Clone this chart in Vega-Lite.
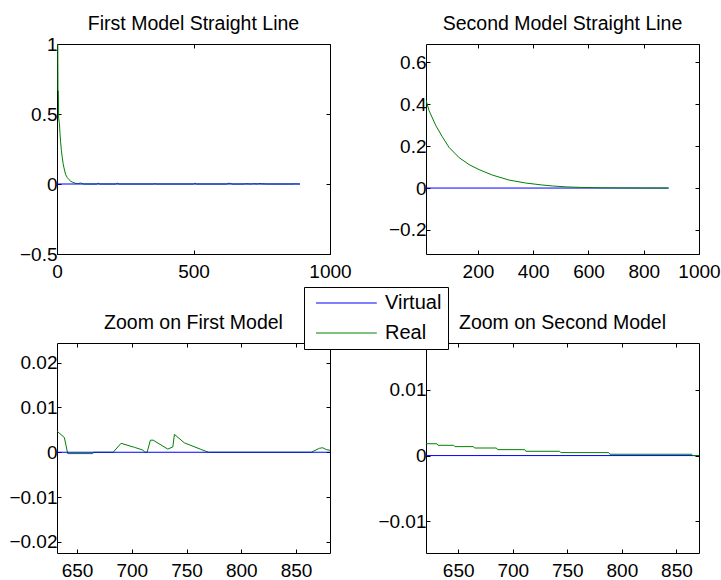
{
  "$schema": "https://vega.github.io/schema/vega-lite/v6.json",
  "background": "white",
  "padding": {"left": 8, "top": 13, "right": 0, "bottom": 0},
  "datasets": {
    "m1": [
      {"series": "Real", "x": 3, "y": 1},
      {"series": "Real", "x": 3.5, "y": 0.665},
      {"series": "Real", "x": 5, "y": 0.665},
      {"series": "Real", "x": 6, "y": 0.47},
      {"series": "Real", "x": 9, "y": 0.43},
      {"series": "Real", "x": 11, "y": 0.36},
      {"series": "Real", "x": 13, "y": 0.306},
      {"series": "Real", "x": 16, "y": 0.24},
      {"series": "Real", "x": 19.5, "y": 0.187},
      {"series": "Real", "x": 22.5, "y": 0.145},
      {"series": "Real", "x": 25.6, "y": 0.115},
      {"series": "Real", "x": 31.7, "y": 0.067},
      {"series": "Real", "x": 38, "y": 0.045},
      {"series": "Real", "x": 44, "y": 0.031},
      {"series": "Real", "x": 50, "y": 0.02},
      {"series": "Real", "x": 56, "y": 0.014},
      {"series": "Real", "x": 65, "y": 0.007},
      {"series": "Real", "x": 74, "y": 0.003},
      {"series": "Real", "x": 80, "y": 0.004},
      {"series": "Real", "x": 86, "y": 0.007},
      {"series": "Real", "x": 92, "y": 0.004},
      {"series": "Real", "x": 98, "y": 0},
      {"series": "Real", "x": 145, "y": 0},
      {"series": "Real", "x": 151, "y": 0.006},
      {"series": "Real", "x": 157, "y": 0},
      {"series": "Real", "x": 215, "y": 0},
      {"series": "Real", "x": 221, "y": 0.006},
      {"series": "Real", "x": 227, "y": 0},
      {"series": "Real", "x": 355, "y": 0},
      {"series": "Real", "x": 359, "y": 0.003},
      {"series": "Real", "x": 363, "y": 0},
      {"series": "Real", "x": 500, "y": 0},
      {"series": "Real", "x": 505, "y": 0.006},
      {"series": "Real", "x": 510, "y": 0},
      {"series": "Real", "x": 622, "y": 0},
      {"series": "Real", "x": 627, "y": 0.0055},
      {"series": "Real", "x": 632.3, "y": 0.0046},
      {"series": "Real", "x": 638.4, "y": 0.0033},
      {"series": "Real", "x": 641.5, "y": -0.0003},
      {"series": "Real", "x": 664.4, "y": -0.0003},
      {"series": "Real", "x": 665, "y": 0},
      {"series": "Real", "x": 683, "y": 0},
      {"series": "Real", "x": 690.2, "y": 0.002},
      {"series": "Real", "x": 702.4, "y": 0.0011},
      {"series": "Real", "x": 710, "y": 0.0005},
      {"series": "Real", "x": 712, "y": 0},
      {"series": "Real", "x": 714, "y": 0},
      {"series": "Real", "x": 717, "y": 0.0027},
      {"series": "Real", "x": 719.5, "y": 0.0027},
      {"series": "Real", "x": 732.9, "y": 0.0007},
      {"series": "Real", "x": 737.5, "y": 0.0012},
      {"series": "Real", "x": 738.9, "y": 0.004},
      {"series": "Real", "x": 748, "y": 0.0021},
      {"series": "Real", "x": 763, "y": 0.00066},
      {"series": "Real", "x": 770, "y": 0},
      {"series": "Real", "x": 863.8, "y": 0},
      {"series": "Real", "x": 871.5, "y": 0.0009},
      {"series": "Real", "x": 874.5, "y": 0.001},
      {"series": "Real", "x": 877.5, "y": 0.0006},
      {"series": "Real", "x": 882, "y": 0.0004},
      {"series": "Real", "x": 889, "y": 0},
      {"series": "Virtual", "x": 0, "y": 0},
      {"series": "Virtual", "x": 890, "y": 0}
    ],
    "m2": [
      {"series": "Virtual", "x": 12, "y": 0},
      {"series": "Virtual", "x": 890, "y": 0},
      {"series": "Real", "x": 12, "y": 0.42},
      {"series": "Real", "x": 23, "y": 0.37},
      {"series": "Real", "x": 47, "y": 0.3},
      {"series": "Real", "x": 71, "y": 0.245},
      {"series": "Real", "x": 95, "y": 0.195},
      {"series": "Real", "x": 132, "y": 0.145},
      {"series": "Real", "x": 168, "y": 0.112},
      {"series": "Real", "x": 204, "y": 0.088},
      {"series": "Real", "x": 252, "y": 0.062},
      {"series": "Real", "x": 313, "y": 0.038},
      {"series": "Real", "x": 373, "y": 0.024},
      {"series": "Real", "x": 430, "y": 0.015},
      {"series": "Real", "x": 469, "y": 0.01},
      {"series": "Real", "x": 520, "y": 0.0055},
      {"series": "Real", "x": 570, "y": 0.0032},
      {"series": "Real", "x": 620.5, "y": 0.0018},
      {"series": "Real", "x": 630.5, "y": 0.0018},
      {"series": "Real", "x": 631.5, "y": 0.00156},
      {"series": "Real", "x": 646, "y": 0.00156},
      {"series": "Real", "x": 647, "y": 0.00136},
      {"series": "Real", "x": 664, "y": 0.00136},
      {"series": "Real", "x": 665, "y": 0.00115},
      {"series": "Real", "x": 685, "y": 0.00115},
      {"series": "Real", "x": 686, "y": 0.0009},
      {"series": "Real", "x": 711, "y": 0.0009},
      {"series": "Real", "x": 712, "y": 0.00065},
      {"series": "Real", "x": 743, "y": 0.00065},
      {"series": "Real", "x": 744, "y": 0.00045},
      {"series": "Real", "x": 788, "y": 0.00045},
      {"series": "Real", "x": 789, "y": 0.0002},
      {"series": "Real", "x": 864, "y": 0.0002},
      {"series": "Real", "x": 865, "y": 0},
      {"series": "Real", "x": 890, "y": 0}
    ]
  },
  "columns": 2,
  "bounds": "flush",
  "spacing": {"row": 89, "column": 96},
  "concat": [
    {
      "title": {"text": "First Model Straight Line", "offset": 0.5},
      "width": 273, "height": 210,
      "data": {"name": "m1"},
      "layer": [
        {
          "mark": {"type": "line", "clip": true, "strokeWidth": 1},
          "encoding": {
            "x": {"field": "x", "type": "quantitative", "scale": {"domain": [0, 1000], "nice": false, "zero": false}, "axis": {"orient": "bottom", "values": [0, 500, 1000], "format": "~r", "labelPadding": 12, "title": null}},
            "y": {"field": "y", "type": "quantitative", "scale": {"domain": [-0.5, 1], "nice": false, "zero": false}, "axis": {"orient": "left", "values": [-0.5, 0, 0.5, 1], "format": "~r", "labelPadding": 4, "title": null}},
            "color": {"field": "series", "type": "nominal", "scale": {"domain": ["Virtual", "Real"], "range": ["#0000ff", "#008000"]},
              "legend": {"orient": "none", "legendX": 247, "legendY": 243, "title": null, "direction": "vertical", "symbolType": "M-3.2,0H3.2M9.85,0", "symbolSize": 361, "symbolStrokeWidth": 1, "symbolOffset": 26.4, "labelOffset": 28.6, "labelFont": "Liberation Sans", "labelFontSize": 20, "labelColor": "black", "padding": 6, "rowPadding": 10, "strokeColor": "black", "fillColor": "white", "labelLimit": 300}}
          }
        },
        {
          "mark": {"type": "point", "opacity": 0, "clip": true},
          "encoding": {
            "x": {"field": "x", "type": "quantitative", "axis": {"orient": "top", "values": [0, 500, 1000], "labels": false, "title": null}},
            "y": {"field": "y", "type": "quantitative", "axis": {"orient": "right", "values": [-0.5, 0, 0.5, 1], "labels": false, "title": null}}
          }
        }
      ],
      "resolve": {"axis": {"x": "independent", "y": "independent"}}
    },
    {
      "title": {"text": "Second Model Straight Line", "offset": 9.5},
      "width": 273, "height": 210,
      "data": {"name": "m2"},
      "layer": [
        {
          "mark": {"type": "line", "clip": true, "strokeWidth": 1},
          "encoding": {
            "x": {"field": "x", "type": "quantitative", "scale": {"domain": [12, 1000], "nice": false, "zero": false}, "axis": {"orient": "bottom", "values": [200, 400, 600, 800, 1000], "format": "~r", "labelPadding": 12, "title": null}},
            "y": {"field": "y", "type": "quantitative", "scale": {"domain": [-0.315, 0.688], "nice": false, "zero": false}, "axis": {"orient": "left", "values": [-0.2, 0, 0.2, 0.4, 0.6], "format": "~r", "labelPadding": 4, "title": null}},
            "color": {"field": "series", "type": "nominal", "scale": {"domain": ["Virtual", "Real"], "range": ["#0000ff", "#008000"]},
              "legend": {"orient": "none", "legendX": 247, "legendY": 243, "title": null, "direction": "vertical", "symbolType": "M-3.2,0H3.2M9.85,0", "symbolSize": 361, "symbolStrokeWidth": 1, "symbolOffset": 26.4, "labelOffset": 28.6, "labelFont": "Liberation Sans", "labelFontSize": 20, "labelColor": "black", "padding": 6, "rowPadding": 10, "strokeColor": "black", "fillColor": "white", "labelLimit": 300}}
          }
        },
        {
          "mark": {"type": "point", "opacity": 0, "clip": true},
          "encoding": {
            "x": {"field": "x", "type": "quantitative", "axis": {"orient": "top", "values": [200, 400, 600, 800, 1000], "labels": false, "title": null}},
            "y": {"field": "y", "type": "quantitative", "axis": {"orient": "right", "values": [-0.2, 0, 0.2, 0.4, 0.6], "labels": false, "title": null}}
          }
        }
      ],
      "resolve": {"axis": {"x": "independent", "y": "independent"}}
    },
    {
      "title": {"text": "Zoom on First Model", "offset": 9.5},
      "width": 273, "height": 210,
      "data": {"name": "m1"},
      "layer": [
        {
          "mark": {"type": "line", "clip": true, "strokeWidth": 1},
          "encoding": {
            "x": {"field": "x", "type": "quantitative", "scale": {"domain": [631.7, 881], "nice": false, "zero": false}, "axis": {"orient": "bottom", "values": [650, 700, 750, 800, 850], "format": "~r", "labelPadding": 12, "title": null}},
            "y": {"field": "y", "type": "quantitative", "scale": {"domain": [-0.0225, 0.0244], "nice": false, "zero": false}, "axis": {"orient": "left", "values": [-0.02, -0.01, 0, 0.01, 0.02], "format": "~r", "labelPadding": 4, "title": null}},
            "color": {"field": "series", "type": "nominal", "scale": {"domain": ["Virtual", "Real"], "range": ["#0000ff", "#008000"]},
              "legend": {"orient": "none", "legendX": 247, "legendY": 243, "title": null, "direction": "vertical", "symbolType": "M-3.2,0H3.2M9.85,0", "symbolSize": 361, "symbolStrokeWidth": 1, "symbolOffset": 26.4, "labelOffset": 28.6, "labelFont": "Liberation Sans", "labelFontSize": 20, "labelColor": "black", "padding": 6, "rowPadding": 10, "strokeColor": "black", "fillColor": "white", "labelLimit": 300}}
          }
        },
        {
          "mark": {"type": "point", "opacity": 0, "clip": true},
          "encoding": {
            "x": {"field": "x", "type": "quantitative", "axis": {"orient": "top", "values": [650, 700, 750, 800, 850], "labels": false, "title": null}},
            "y": {"field": "y", "type": "quantitative", "axis": {"orient": "right", "values": [-0.02, -0.01, 0, 0.01, 0.02], "labels": false, "title": null}}
          }
        }
      ],
      "resolve": {"axis": {"x": "independent", "y": "independent"}}
    },
    {
      "title": {"text": "Zoom on Second Model", "offset": 9.5},
      "width": 273, "height": 210,
      "data": {"name": "m2"},
      "layer": [
        {
          "mark": {"type": "line", "clip": true, "strokeWidth": 1},
          "encoding": {
            "x": {"field": "x", "type": "quantitative", "scale": {"domain": [620.5, 870.7], "nice": false, "zero": false}, "axis": {"orient": "bottom", "values": [650, 700, 750, 800, 850], "format": "~r", "labelPadding": 12, "title": null}},
            "y": {"field": "y", "type": "quantitative", "scale": {"domain": [-0.0148, 0.0171], "nice": false, "zero": false}, "axis": {"orient": "left", "values": [-0.01, 0, 0.01], "format": "~r", "labelPadding": 4, "title": null}},
            "color": {"field": "series", "type": "nominal", "scale": {"domain": ["Virtual", "Real"], "range": ["#0000ff", "#008000"]},
              "legend": {"orient": "none", "legendX": 247, "legendY": 243, "title": null, "direction": "vertical", "symbolType": "M-3.2,0H3.2M9.85,0", "symbolSize": 361, "symbolStrokeWidth": 1, "symbolOffset": 26.4, "labelOffset": 28.6, "labelFont": "Liberation Sans", "labelFontSize": 20, "labelColor": "black", "padding": 6, "rowPadding": 10, "strokeColor": "black", "fillColor": "white", "labelLimit": 300}}
          }
        },
        {
          "mark": {"type": "point", "opacity": 0, "clip": true},
          "encoding": {
            "x": {"field": "x", "type": "quantitative", "axis": {"orient": "top", "values": [650, 700, 750, 800, 850], "labels": false, "title": null}},
            "y": {"field": "y", "type": "quantitative", "axis": {"orient": "right", "values": [-0.01, 0, 0.01], "labels": false, "title": null}}
          }
        }
      ],
      "resolve": {"axis": {"x": "independent", "y": "independent"}}
    }
  ],
  "config": {
    "font": "Liberation Sans",
    "view": {"stroke": "black", "strokeWidth": 1},
    "axis": {"domain": false, "grid": false, "ticks": true, "tickSize": -4, "tickColor": "black", "tickWidth": 1, "labelFont": "Liberation Sans", "labelFontSize": 19, "labelColor": "black", "labelFlush": false, "labelOverlap": false, "labelBound": false},
    "title": {"font": "Liberation Sans", "fontSize": 19.5, "fontWeight": "normal", "color": "black", "anchor": "middle", "frame": "group", "baseline": "alphabetic"}
  }
}
